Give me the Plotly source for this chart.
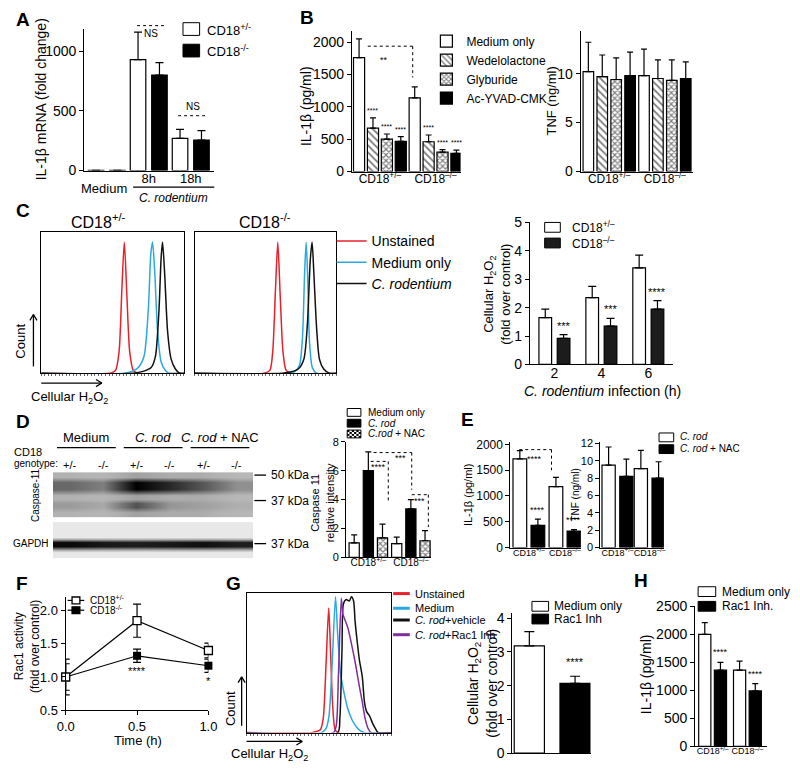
import math
import plotly.graph_objects as go

FONT = "Liberation Sans, Arial, sans-serif"
W, H = 800, 770

# ---------------- data ----------------
geno = ["CD18<sup>+/–</sup>", "CD18<sup>–/–</sup>"]

# A
a_cats = ["Medium", "8h", "18h"]
a_het = [1, 930, 270]
a_het_err = [0, 230, 75]
a_ko = [1, 800, 255]
a_ko_err = [0, 105, 80]

# B
b_series = ["Medium only", "Wedelolactone", "Glyburide", "Ac-YVAD-CMK"]
b_il1b = [[1760, 1140], [670, 460], [500, 300], [465, 280]]
b_il1b_err = [[290, 170], [160, 105], [80, 40], [75, 50]]
b_tnf = [[10.2, 9.8], [9.7, 9.5], [9.4, 9.3], [9.8, 9.5]]
b_tnf_err = [[3.0, 2.7], [2.2, 1.9], [2.2, 2.1], [2.4, 1.7]]

# C flow histograms (x: channel 0-100, y: % of max)
c1_unst_x = [0, 48, 52, 54.5, 56.5, 58.2, 60, 62, 64.5, 68, 100]
c1_unst_y = [0, 0, 2, 15, 60, 93, 55, 15, 2, 0, 0]
c1_med_x = [0, 58, 64, 68, 72, 75, 76.8, 78, 79.5, 81.5, 84, 87, 90, 100]
c1_med_y = [0, 0, 1.5, 4, 12, 45, 85, 93, 72, 30, 8, 2, 0, 0]
c1_crod_x = [0, 64, 72, 77, 80, 82.5, 84, 85, 86.5, 88.5, 91, 94, 97, 100]
c1_crod_y = [0, 0, 1.5, 4, 12, 45, 82, 93, 70, 30, 10, 3, 0, 0]
c2_unst_x = [0, 49, 53, 55, 57, 58.6, 60.3, 62.3, 64.5, 68, 100]
c2_unst_y = [0, 0, 2, 15, 60, 93, 55, 15, 2, 0, 0]
c2_med_x = [0, 66, 71, 74, 76, 77.5, 78.6, 79.7, 81, 83, 86, 100]
c2_med_y = [0, 0, 1.5, 6, 25, 70, 93, 68, 22, 4, 0, 0]
c2_crod_x = [0, 62, 68, 73, 77, 79.5, 81.5, 82.8, 84, 86, 88, 91, 95, 100]
c2_crod_y = [0, 0, 1, 3, 10, 35, 80, 93, 72, 32, 10, 3, 0, 0]

# C bars
c_hours = ["2", "4", "6"]
c_het = [1.65, 2.35, 3.4]
c_het_err = [0.3, 0.4, 0.45]
c_ko = [0.92, 1.35, 1.95]
c_ko_err = [0.13, 0.27, 0.3]
c_stars = ["***", "***", "****"]

# D blot (relative band darkness per lane)
blot_lanes = ["+/-", "-/-", "+/-", "-/-", "+/-", "-/-"]
blot_groups = ["Medium", "<i>C. rod</i>", "<i>C. rod</i> + NAC"]
casp_bg = [0.38, 0.36, 0.44, 0.4, 0.4, 0.35]
casp_50 = [0.64, 0.56, 1.0, 0.86, 0.7, 0.5]
casp_37 = [0.46, 0.41, 0.72, 0.48, 0.44, 0.39]
gapdh_bg = [0.05, 0.05, 0.05, 0.05, 0.05, 0.05]
gapdh = [0.97, 0.92, 0.9, 0.92, 0.95, 0.9]

# D bars
d_series = ["Medium only", "C. rod", "C.rod + NAC"]
d_vals = [[1.0, 0.95], [6.0, 3.35], [1.35, 1.15]]
d_err = [[0.55, 0.45], [1.3, 0.65], [0.95, 0.7]]

# E
e_series = ["C. rod", "C. rod + NAC"]
e_il1b = [[1720, 1180], [430, 320]]
e_il1b_err = [[160, 180], [120, 30]]
e_tnf = [[9.5, 9.1], [8.2, 8.0]]
e_tnf_err = [[2.1, 2.1], [2.0, 1.9]]

# F
f_time = [0.0, 0.5, 1.0]
f_het = [1.0, 1.85, 1.4]
f_het_err = [0.27, 0.25, 0.11]
f_ko = [1.0, 1.32, 1.17]
f_ko_err = [0.2, 0.1, 0.1]
f_stars = ["", "****", "*"]

# G flow
g_unst_x = [0, 45, 49, 51, 53, 55, 56.8, 58, 59.5, 61, 63, 100]
g_unst_y = [0, 0, 1, 2, 10, 50, 89, 60, 20, 3, 0, 0]
g_med_x = [0, 52, 55, 57, 59, 61.5, 63, 65, 67.5, 70, 73, 76, 79, 82, 100]
g_med_y = [0, 0, 3, 12, 45, 97, 70, 42, 28, 17, 9, 4, 1, 0, 0]
g_veh_x = [0, 63, 64.5, 66, 67, 69, 71, 72.5, 74, 75, 76.5, 78, 80, 81.5, 83, 85, 87, 89, 91, 100]
g_veh_y = [0, 0, 10, 60, 92, 95, 94, 97, 94, 80, 65, 52, 40, 22, 15, 12, 7, 3, 0, 0]
g_rac_x = [0, 60, 62, 63.5, 65.5, 66.5, 67.5, 70, 72, 74, 76, 78, 80, 82, 84, 86, 100]
g_rac_y = [0, 0, 5, 40, 96, 85, 82, 75, 66, 56, 45, 33, 22, 10, 3, 0, 0]

# G bars
g_cats = ["Medium only", "Rac1 Inh"]
g_vals = [3.18, 2.07]
g_err = [0.42, 0.21]

# H
h_series = ["Medium only", "Rac1 Inh."]
h_vals = [[2000, 1360], [1360, 990]]
h_err = [[210, 160], [140, 130]]

# ---------------- helpers ----------------
def X(px):
    return px / W


def Y(py):
    return 1 - py / H


fig = go.Figure()
layout = {}
ann = []
shp = []


def tf(size):
    return dict(family=FONT, size=size, color="black")


def txt(x, y, text, size=12, anchor="center", angle=0, yanchor="middle"):
    ann.append(dict(x=X(x), y=Y(y), xref="paper", yref="paper", text=text, showarrow=False,
                    xanchor=anchor, yanchor=yanchor, textangle=angle, font=tf(size)))


def seg(x0, y0, x1, y1, dash="solid", w=1.0, color="black"):
    shp.append(dict(type="line", xref="paper", yref="paper", x0=X(x0), y0=Y(y0), x1=X(x1), y1=Y(y1),
                    line=dict(color=color, width=w, dash=dash)))


def rect(x0, y0, x1, y1, fill, lw=1.0):
    shp.append(dict(type="rect", xref="paper", yref="paper", x0=X(x0), y0=Y(y0), x1=X(x1), y1=Y(y1),
                    fillcolor=fill, line=dict(color="black", width=lw)))


def arrow(x0, y0, x1, y1, head=7):
    seg(x0, y0, x1, y1, w=1.3)
    ang = math.atan2(y1 - y0, x1 - x0)
    for da in (2.6, -2.6):
        seg(x1, y1, x1 + head * math.cos(ang + da), y1 + head * math.sin(ang + da), w=1.3)


def names(n):
    if n == 1:
        return "xaxis", "yaxis", "x", "y"
    return f"xaxis{n}", f"yaxis{n}", f"x{n}", f"y{n}"


BASE = dict(showline=True, linecolor="black", linewidth=1.3, showgrid=False, zeroline=False,
            ticks="outside", ticklen=4, tickwidth=1.2, tickcolor="black", tickfont=tf(12),
            fixedrange=True)
CATX = dict(type="category", ticks="", ticklen=0, tickangle=0, ticklabelstandoff=-4)


def axes(n, xd, yd, xcfg=None, ycfg=None):
    xa, ya, xr, yr = names(n)
    layout[xa] = {**BASE, "domain": [X(xd[0]), X(xd[1])], "anchor": yr, **(xcfg or {})}
    layout[ya] = {**BASE, "domain": [Y(yd[1]), Y(yd[0])], "anchor": xr, **(ycfg or {})}


LINE = dict(color="black", width=1.2)
WHITE = dict(color="white", line=LINE)
BLACK = dict(color="black", line=LINE)
DARK = dict(color="#1c1c1c", line=LINE)
HATCH = dict(color="white", line=LINE,
             pattern=dict(shape="\\", fgcolor="black", bgcolor="white", size=5, solidity=0.35))
CHECK = dict(color="white", line=LINE,
             pattern=dict(shape="x", fgcolor="black", bgcolor="white", size=4, solidity=0.5))


def bar_panel(n, cats, labels, vals, errs, styles, pitch, width, legend=None, capw=3):
    xr, yr = names(n)[2:]
    k = len(labels)
    offs = []
    for i in range(k):
        off = -k * pitch / 2 + i * pitch + (pitch - width) / 2
        offs.append(off)
        fig.add_trace(go.Bar(
            x=cats, y=vals[i], name=labels[i], width=width, offset=off,
            xaxis=xr, yaxis=yr, marker=styles[i],
            error_y=dict(type="data", array=errs[i], arrayminus=[0] * len(errs[i]), symmetric=False,
                         color="black", thickness=1.2, width=capw),
            showlegend=legend is not None, legend=legend or "legend", hoverinfo="skip"))
    return offs


def star(n, x, y, text, size=8, shift=2, yanchor="bottom"):
    xr, yr = names(n)[2:]
    ann.append(dict(x=x, y=y, xref=xr, yref=yr, text=text, showarrow=False, yanchor=yanchor,
                    yshift=shift, font=tf(size)))


def flow(n, xs, ys, color, name=None, legend=None):
    xr, yr = names(n)[2:]
    fig.add_trace(go.Scatter(x=xs, y=ys, mode="lines", xaxis=xr, yaxis=yr, name=name or "",
                             line=dict(color=color, width=1.5, shape="spline", smoothing=0.7),
                             showlegend=legend is not None, legend=legend or "legend",
                             hoverinfo="skip"))


RED, CYAN, BLK, PURP = "#e8202a", "#2aa9e0", "#111111", "#7d2e9e"

# ---------------- Panel A ----------------
offs = bar_panel(1, a_cats, ["CD18+/-", "CD18-/-"], [a_het, a_ko], [a_het_err, a_ko_err],
                 [WHITE, BLACK], 0.51, 0.37, capw=4)
axes(1, (77, 210), (21, 166),
     dict(**CATX, range=[-0.535, 2.56], tickvals=a_cats, ticktext=["", "8h", "18h"], tickfont=tf(13)),
     dict(range=[0, 1190], tickvals=[0, 500, 1000], tickfont=tf(14)))
txt(5, 12, "<b>A</b>", 19, "left")
txt(33, 93, "IL-1β mRNA (fold change)", 14, angle=-90)
txt(97, 184, "Medium", 13)
seg(127, 183, 210, 183, w=1.2)
txt(168, 194, "<i>C. rodentium</i>", 12)
seg(131, 18, 159, 18, dash="dot")
txt(145, 26, "NS", 10)
txt(188, 101, "NS", 10)
seg(173, 110, 203, 110, dash="dot")
rect(178, 15, 195, 28, "white")
txt(200, 22, "CD18<sup>+/-</sup>", 13, "left")
rect(178, 37, 195, 50, "black")
txt(200, 44, "CD18<sup>-/-</sup>", 13, "left")

# ---------------- Panel B ----------------
STY4 = [WHITE, HATCH, CHECK, BLACK]
offs = bar_panel(2, geno, b_series, b_il1b, b_il1b_err, STY4, 0.25, 0.2, legend="legend")
for i in range(1, 4):
    for ci in range(2):
        star(2, ci + offs[i] + 0.1, b_il1b[i][ci] + b_il1b_err[i][ci], "****", 7)
axes(2, (351, 462), (23, 167),
     dict(**CATX, range=[-0.5, 1.45], tickfont=tf(12)),
     dict(range=[0, 2180], tickvals=[0, 500, 1000, 1500, 2000], tickfont=tf(14)))
txt(296, 10, "<b>B</b>", 19, "left")
txt(304, 100, "IL-1β (pg/ml)", 14, angle=-90)
seg(367, 39, 413, 39, dash="dot")
seg(413, 39, 413, 71, dash="dot")
txt(384, 53, "**", 9)

offs = bar_panel(3, geno, b_series, b_tnf, b_tnf_err, STY4, 0.25, 0.19)
axes(3, (585, 700), (23, 167),
     dict(**CATX, range=[-0.51, 1.51], tickfont=tf(12)),
     dict(range=[0, 14.4], tickvals=[0, 5, 10], tickfont=tf(14)))
txt(555, 95, "TNF (ng/ml)", 13, angle=-90)

# ---------------- Panel C ----------------
FLOWX = dict(range=[0, 100], mirror=True, linewidth=1, ticks="outside", ticklen=2, tickwidth=0.6,
             dtick=2.5, tickcolor="#666", showticklabels=False)
FLOWY = dict(range=[0, 100], mirror=True, linewidth=1, ticks="", showticklabels=False)
axes(4, (33, 179), (229, 373), FLOWX, FLOWY)
axes(5, (190, 335), (229, 373), FLOWX, FLOWY)
flow(4, c1_unst_x, c1_unst_y, RED, "Unstained", "legend2")
flow(4, c1_med_x, c1_med_y, CYAN, "Medium only", "legend2")
flow(4, c1_crod_x, c1_crod_y, BLK, "<i>C. rodentium</i>", "legend2")
flow(5, c2_unst_x, c2_unst_y, RED)
flow(5, c2_med_x, c2_med_y, CYAN)
flow(5, c2_crod_x, c2_crod_y, BLK)
txt(5, 207, "<b>C</b>", 19, "left")
txt(92, 218, "CD18<sup>+/-</sup>", 16)
txt(262, 218, "CD18<sup>-/-</sup>", 16)
txt(12, 340, "Count", 13, angle=-90)
arrow(25, 366, 25, 313)
arrow(33, 383, 95, 383)
txt(62, 398, "Cellular H<sub>2</sub>O<sub>2</sub>", 13)

offs = bar_panel(6, c_hours, ["CD18+/-", "CD18-/-"], [c_het, c_ko], [c_het_err, c_ko_err],
                 [WHITE, DARK], 0.39, 0.27, capw=4)
for ci in range(3):
    star(6, ci + offs[1] + 0.135, c_ko[ci] + c_ko_err[ci], c_stars[ci], 11, 1)
axes(6, (533, 679), (219, 364),
     dict(**CATX, range=[-0.52, 2.52], tickfont=tf(14)),
     dict(range=[0, 5], dtick=1, tickfont=tf(14)))
txt(499, 292, "Cellular H<sub>2</sub>O<sub>2</sub><br>(fold over control)", 13, angle=-90)
txt(607, 391, "<i>C. rodentium</i> infection (h)", 14)
rect(548, 219, 564, 229, "white")
txt(574, 224, "CD18<sup>+/–</sup>", 12, "left")
rect(548, 235, 564, 245, "#1c1c1c")
txt(574, 240, "CD18<sup>–/–</sup>", 12, "left")

# ---------------- Panel D ----------------
lanes = list(range(1, len(blot_lanes) + 1))
casp_rows = [474, 479, 484, 491, 497, 502, 506, 510, 515, 518]
casp_z = [casp_bg, casp_bg, casp_50, casp_50, casp_bg, casp_bg, casp_37, casp_37, casp_bg, casp_bg]
gap_rows = [530, 540, 545, 550, 556, 562]
gap_z = [gapdh_bg, gapdh_bg, gapdh, gapdh, gapdh_bg, gapdh_bg]
BLOTCS = [[0, "#f0f0f0"], [0.38, "#b2b2b2"], [0.7, "#575757"], [1, "#000000"]]
for rows, z in ((casp_rows, casp_z), (gap_rows, gap_z)):
    fig.add_trace(go.Heatmap(x=lanes, y=rows, z=z, zsmooth="best", colorscale=BLOTCS, zmin=0, zmax=1,
                             showscale=False, xaxis="x7", yaxis="y7", hoverinfo="skip"))
axes(7, (45, 250), (474, 562),
     dict(range=[0.5, 6.5], showline=False, ticks="", showticklabels=False),
     dict(range=[562, 474], showline=False, ticks="", showticklabels=False))
for gi, g in enumerate(blot_groups):
    ann.append(dict(x=2 * gi + 1.5, y=Y(439), xref="x7", yref="paper", text=g, showarrow=False,
                    font=tf(13)))
    shp.append(dict(type="line", xref="x7", yref="paper", x0=2 * gi + 0.62, x1=2 * gi + 2.38,
                    y0=Y(449), y1=Y(449), line=dict(color="black", width=1.3)))
for li, lab in zip(lanes, blot_lanes):
    ann.append(dict(x=li, y=Y(467), xref="x7", yref="paper", text=lab, showarrow=False, font=tf(11)))
txt(3, 453, "CD18", 11, "left")
txt(3, 465, "genotype:", 10, "left")
txt(27, 497, "Caspase-11", 10, angle=-90)
txt(22, 547, "GAPDH", 10)
for yy, lab in ((477, "50 kDa"), (503, "37 kDa"), (547, "37 kDa")):
    seg(251, yy, 263, yy, w=1.3)
    txt(266, yy, lab, 12, "left")
txt(5, 422, "<b>D</b>", 19, "left")

offs = bar_panel(8, geno, d_series, d_vals, d_err, [WHITE, BLACK, CHECK], 0.333, 0.24)
axes(8, (345, 432), (443, 561),
     dict(**CATX, range=[-0.52, 1.48], tickfont=tf(10)),
     dict(range=[0, 8], dtick=2, tickfont=tf(11)))
txt(320, 505, "Caspase 11<br>relative intensity", 11, angle=-90)
seg(370, 463, 388, 463, dash="dot")
seg(388, 463, 388, 503, dash="dot")
txt(378, 469, "****", 9)
seg(373, 454, 412, 454, dash="dot")
seg(412, 454, 412, 492, dash="dot")
txt(400, 460, "***", 9)
seg(412, 497, 429, 497, dash="dot")
seg(429, 497, 429, 530, dash="dot")
txt(420, 503, "***", 9)
rect(346, 409, 360, 417, "white")
rect(346, 420, 360, 428, "black")
rect(346, 431, 360, 439, "white")
for r in range(4):
    for c in range(6):
        if (r + c) % 2 == 0:
            shp.append(dict(type="rect", xref="paper", yref="paper", x0=X(346 + c * 14 / 6),
                            x1=X(346 + (c + 1) * 14 / 6), y0=Y(431 + r * 2), y1=Y(431 + (r + 1) * 2),
                            fillcolor="black", line=dict(width=0)))
txt(365, 413, "Medium only", 10, "left")
txt(365, 424, "<i>C. rod</i>", 10, "left")
txt(365, 435, "<i>C.rod</i> + NAC", 10, "left")

# ---------------- Panel E ----------------
offs = bar_panel(9, geno, e_series, e_il1b, e_il1b_err, [WHITE, BLACK], 0.5, 0.38)
for ci in range(2):
    star(9, ci + offs[1] + 0.19, e_il1b[1][ci] + e_il1b_err[1][ci], "****", 9)
axes(9, (513, 585), (443, 551),
     dict(**CATX, range=[-0.51, 1.44], tickfont=tf(9)),
     dict(range=[0, 2050], tickvals=[0, 500, 1000, 1500, 2000], tickfont=tf(12)))
txt(469, 497, "IL-1β (pg/ml)", 11, angle=-90)
seg(522, 451, 555, 451, dash="dot")
seg(555, 451, 555, 472, dash="dot")
txt(538, 461, "****", 9)
txt(460, 420, "<b>E</b>", 19, "left")

offs = bar_panel(10, geno, e_series, e_tnf, e_tnf_err, [WHITE, BLACK], 0.55, 0.41)
axes(10, (605, 670), (443, 551),
     dict(**CATX, range=[-0.53, 1.44], tickfont=tf(9)),
     dict(range=[0, 12.2], dtick=2, tickfont=tf(11)))
txt(580, 497, "TNF (ng/ml)", 10, angle=-90)
rect(665, 434, 680, 443, "white")
txt(684, 438, "<i>C. rod</i>", 10, "left")
rect(665, 446, 680, 455, "black")
txt(684, 450, "<i>C. rod</i> + NAC", 10, "left")

# ---------------- Panel F ----------------
fig.add_trace(go.Scatter(x=f_time, y=f_ko, mode="lines+markers", xaxis="x11", yaxis="y11",
                         name="CD18-/-", showlegend=False, cliponaxis=False, hoverinfo="skip",
                         line=dict(color="black", width=1.2),
                         marker=dict(symbol="square", size=8, color="black"),
                         error_y=dict(type="data", array=f_ko_err, color="black", thickness=1.2, width=4)))
fig.add_trace(go.Scatter(x=f_time, y=f_het, mode="lines+markers", xaxis="x11", yaxis="y11",
                         name="CD18+/-", showlegend=False, cliponaxis=False, hoverinfo="skip",
                         line=dict(color="black", width=1.2),
                         marker=dict(symbol="square", size=8, color="white",
                                     line=dict(color="black", width=1.3)),
                         error_y=dict(type="data", array=f_het_err, color="black", thickness=1.2, width=4)))
for xi, yv, e, s in zip(f_time, f_ko, f_ko_err, f_stars):
    if s:
        star(11, xi, yv - e, s, 11, -1, "top")
axes(11, (58, 204), (602, 717),
     dict(range=[0, 1], tickvals=[0, 0.5, 1.0], tickformat=".1f", tickfont=tf(13)),
     dict(range=[0.5, 2.2], tickvals=[0.5, 1.0, 1.5, 2.0], tickformat=".1f", tickfont=tf(13)))
txt(5, 588, "<b>F</b>", 19, "left")
txt(19, 652, "Rac1 activity<br>(fold over control)", 12, angle=-90)
txt(132, 748, "Time (h)", 13)
seg(60, 605, 77, 605, w=1.2)
rect(64.5, 601.5, 72.5, 608.5, "white", 1.3)
txt(81, 605, "CD18<sup>+/-</sup>", 10, "left")
seg(60, 615, 77, 615, w=1.2)
rect(64.5, 611.5, 72.5, 618.5, "black", 1.3)
txt(81, 615, "CD18<sup>-/-</sup>", 10, "left")

# ---------------- Panel G ----------------
axes(12, (243, 391), (597, 740), FLOWX, FLOWY)
flow(12, g_unst_x, g_unst_y, RED)
flow(12, g_med_x, g_med_y, CYAN)
flow(12, g_veh_x, g_veh_y, BLK)
flow(12, g_rac_x, g_rac_y, PURP)
txt(220, 588, "<b>G</b>", 19, "left")
for yy, col, lab in ((598, RED, "Unstained"), (613, CYAN, "Medium"),
                     (625, BLK, "<i>C. rod</i>+vehicle"), (640, PURP, "<i>C. rod</i>+Rac1 Inh")):
    seg(393, yy, 410, yy, w=3, color=col)
    txt(413, yy, lab, 11, "left")
txt(226, 715, "Count", 13, angle=-90)
arrow(238, 733, 238, 683)
arrow(243, 749, 300, 749)
txt(266, 762, "Cellular H<sub>2</sub>O<sub>2</sub>", 13)

fig.add_trace(go.Bar(x=g_cats, y=g_vals, width=0.66, xaxis="x13", yaxis="y13", showlegend=False,
                     marker=dict(color=["white", "black"], line=LINE), hoverinfo="skip",
                     error_y=dict(type="data", array=g_err, arrayminus=[0, 0], symmetric=False,
                                  color="black", thickness=1.2, width=5)))
star(13, 1, g_vals[1] + g_err[1], "****", 11, 6)
axes(13, (515, 595), (618, 761),
     dict(**CATX, range=[-0.37, 1.34], showticklabels=False),
     dict(range=[0, 4.15], tickvals=[0, 1, 2, 3, 4], tickfont=tf(14)))
txt(484, 690, "Cellular H<sub>2</sub>O<sub>2</sub><br>(fold over control)", 14, angle=-90)
rect(535, 606, 552, 616, "white")
txt(556, 611, "Medium only", 12, "left")
rect(535, 619, 552, 629, "black")
txt(556, 624, "Rac1 Inh", 12, "left")

# ---------------- Panel H ----------------
offs = bar_panel(14, geno, h_series, h_vals, h_err, [WHITE, BLACK], 0.45, 0.35)
for ci in range(2):
    star(14, ci + offs[1] + 0.175, h_vals[1][ci] + h_err[1][ci], "****", 9, 3)
axes(14, (702, 775), (611, 754),
     dict(**CATX, range=[-0.5, 1.55], tickfont=tf(9)),
     dict(range=[0, 2500], dtick=500, tickfont=tf(14)))
txt(652, 680, "IL-1β (pg/ml)", 14, angle=-90)
txt(637, 585, "<b>H</b>", 19, "left")
rect(705, 591, 723, 601, "white")
txt(727, 596, "Medium only", 12, "left")
rect(705, 606, 723, 616, "black")
txt(727, 611, "Rac1 Inh.", 12, "left")

# ---------------- layout ----------------
LEG = dict(xanchor="left", yanchor="top", bgcolor="rgba(0,0,0,0)", borderwidth=0,
           tracegroupgap=0, itemclick=False, itemdoubleclick=False)
fig.update_layout(
    width=W, height=H, margin=dict(l=0, r=0, t=0, b=0),
    paper_bgcolor="white", plot_bgcolor="rgba(0,0,0,0)",
    barmode="overlay", showlegend=True,
    font=dict(family=FONT, color="black"),
    legend=dict(x=X(427), y=Y(19), font=tf(12), **LEG),
    legend2=dict(x=X(330), y=Y(222), font=tf(14), **LEG),
    annotations=ann, shapes=shp, **layout)

fig.write_html("out.html", config={"displayModeBar": False},
               post_script="document.body.style.margin='0px';")
